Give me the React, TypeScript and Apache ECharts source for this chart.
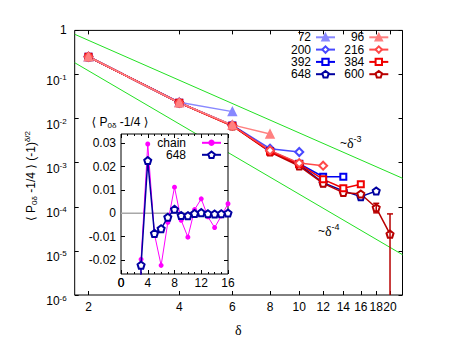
import React, { useEffect, useRef } from 'react';
import * as echarts from 'echarts';

// ---------- data ----------
const deltas = [2, 4, 6, 8, 10, 12, 14, 16, 18, 20];
const xTickValues = [2, 4, 6, 8, 10, 12, 14, 16, 18, 20];

const legendLeft = ['72', '200', '392', '648'];
const legendRight = ['96', '216', '384', '600'];

const vals72 = [0.253, 0.0235, 0.0144];
const vals96 = [0.253, 0.0229, 0.0072, 0.00448];
const vals200 = [0.253, 0.0229, 0.0071, 0.00208, 0.00175];
const vals216 = [0.253, 0.0229, 0.0069, 0.0019, 0.00098, 0.000855];
const vals392 = [0.253, 0.0229, 0.007, 0.00185, 0.00095, 0.00048, 0.00048];
const vals384 = [0.253, 0.0229, 0.0069, 0.0018, 0.00093, 0.00042, 0.000263, 0.000323];
const vals648 = [0.253, 0.0229, 0.007, 0.00182, 0.0009, 0.00035, 0.00023, 0.00017, 0.000228];
const vals600 = [0.253, 0.0229, 0.0068, 0.00175, 0.00084, 0.00034, 0.00021, 0.000195, 0.000095, 0.000024];

const errDelta = [18, 20];
const errLow = [7.3e-5, 1e-6];
const errHigh = [1.2e-4, 6.9e-5];

const guideX = [1.8, 22];
const guideCube = [0.816, 4.44e-4];
const guideQuartic = [0.185, 8.2e-6];

const insetX = [2, 3, 4, 5, 6, 7, 8, 9, 10, 11, 12, 13, 14, 15, 16];
const chainVals = [-0.25, -0.0197, 0.0297, -0.0089, -0.0223, -0.0039, 0.0112, -0.003, -0.0102, 0.0016, 0.0062, -0.0015, -0.0061, -0.0011, 0.0041];
const inset648Vals = [-0.25, -0.0222, 0.0226, -0.0086, -0.0066, -0.0017, 0.0017, -0.0009, -0.001, -0.0001, 0.0003, -0.0002, -0.0003, -0.0002, 0.0001];
const insetXTicks = [0, 4, 8, 12, 16];
const insetYTicks = [-0.02, -0.01, 0, 0.01, 0.02, 0.03];
const insetYMin = -0.026;
const insetYMax = 0.034;

// ---------- helpers ----------
const L = (v: number) => Math.log10(v);
const SANS = 'Liberation Sans, Arial, Helvetica, sans-serif';
const SERIF = 'Liberation Serif, DejaVu Serif, serif';
const BR = 'DejaVu Sans, Liberation Sans, sans-serif';
const PENTA = 'path://M0,-10L9.51,-3.09L5.88,8.09L-5.88,8.09L-9.51,-3.09Z';

function mainSeries(name: string, vals: number[], color: string, symbol: string, size: number, lw = 1.5) {
  return {
    name,
    type: 'line',
    xAxisIndex: 0,
    yAxisIndex: 0,
    data: vals.map((v, i) => [L(deltas[i]), L(v)]),
    symbol,
    symbolSize: size,
    color,
    itemStyle: { color, borderColor: color, borderWidth: 1.5 },
    lineStyle: { color, width: lw },
    z: 3,
  };
}

const titleRich = {
  t: { fontSize: 12, fontFamily: SANS, fill: '#000', color: '#000' },
  br: { fontSize: 12, fontFamily: BR, fill: '#000', color: '#000' },
  sub: { fontSize: 8, fontFamily: SANS, fill: '#000', color: '#000', padding: [7, 0, 0, 0] },
  sup: { fontSize: 8, fontFamily: SANS, fill: '#000', color: '#000', padding: [0, 0, 7, 0] },
};

export default function App() {
  const ref = useRef<HTMLDivElement>(null);
  useEffect(() => {
    document.body.style.margin = '0';
    const chart = echarts.init(ref.current!, null, { renderer: 'svg' });
    const axisTickStyle = { lineStyle: { color: '#000', width: 1 } };

    const graphics: any[] = [
      {
        type: 'text', x: 31, y: 176, rotation: Math.PI / 2, z: 30,
        style: {
          text: '{br|\u27e8}{t| P}{sub|0δ}{t| -1/4 }{br|\u27e9}{t| (-1)}{sup|δ/2}',
          align: 'center', verticalAlign: 'middle',
          rich: titleRich,
        },
      },
      {
        type: 'text', x: 120, y: 122, z: 30,
        style: {
          text: '{br|\u27e8}{t| P}{sub|0δ}{t| -1/4 }{br|\u27e9}',
          align: 'center', verticalAlign: 'middle',
          rich: titleRich,
        },
      },
      {
        type: 'text', x: 340, y: 143, z: 30,
        style: {
          text: '{t|~}{d|δ}{sup|-3}',
          align: 'left', verticalAlign: 'middle',
          rich: {
            t: { fontSize: 12, fontFamily: SANS, fill: '#000' },
            d: { fontSize: 14, fontFamily: SERIF, fill: '#000' },
            sup: { fontSize: 9, fontFamily: SANS, fill: '#000', padding: [0, 0, 8, 0] },
          },
        },
      },
      {
        type: 'text', x: 318, y: 231, z: 30,
        style: {
          text: '{t|~}{d|δ}{sup|-4}',
          align: 'left', verticalAlign: 'middle',
          rich: {
            t: { fontSize: 12, fontFamily: SANS, fill: '#000' },
            d: { fontSize: 14, fontFamily: SERIF, fill: '#000' },
            sup: { fontSize: 9, fontFamily: SANS, fill: '#000', padding: [0, 0, 8, 0] },
          },
        },
      },
      {
        type: 'text', x: 238.3, y: 330, z: 30,
        style: { text: 'δ', fontSize: 14, fontFamily: SERIF, fill: '#000', align: 'center', verticalAlign: 'middle' },
      },
    ];

    const option: any = {
      animation: false,
      backgroundColor: '#fff',
      textStyle: { fontFamily: SANS },
      grid: [
        {
          left: 74.7, right: 60.5, top: 30.4, bottom: 53,
          show: true, borderColor: '#000', borderWidth: 1, backgroundColor: 'transparent',
          outerBoundsMode: 'none',
        },
        {
          left: 121, width: 107, top: 134, height: 140,
          show: true, borderColor: '#000', borderWidth: 1, backgroundColor: '#fff',
          z: 10, outerBoundsMode: 'none',
        },
      ],
      xAxis: [
        {
          type: 'value', gridIndex: 0, min: L(1.8), max: L(22),
          axisLine: { show: false, onZero: false }, splitLine: { show: false },
          axisTick: { inside: true, length: 4, customValues: xTickValues.map(L), ...axisTickStyle },
          axisLabel: {
            customValues: xTickValues.map(L), hideOverlap: false,
            formatter: (v: number) => String(Math.round(Math.pow(10, v))),
            fontSize: 12, color: '#000', fontFamily: SANS, margin: 6,
          },
        },
        {
          type: 'value', gridIndex: 0, position: 'top', min: L(1.8), max: L(22),
          axisLine: { show: false, onZero: false }, splitLine: { show: false },
          axisTick: { inside: true, length: 4, customValues: xTickValues.map(L), ...axisTickStyle },
          axisLabel: { show: false },
        },
        {
          type: 'value', gridIndex: 1, min: 0, max: 16, interval: 4, z: 12,
          axisLine: { show: false, onZero: false }, splitLine: { show: false },
          axisTick: { inside: true, length: 4, ...axisTickStyle },
          minorTick: { show: true, splitNumber: 4, length: 2, lineStyle: { color: '#000' } },
          axisLabel: {
            customValues: insetXTicks,
            fontSize: 12, color: '#000', fontFamily: SANS, margin: 3, hideOverlap: false,
            showMinLabel: true, showMaxLabel: true,
            formatter: (v: number) => String(v),
          },
        },
        {
          type: 'value', gridIndex: 1, position: 'top', min: 0, max: 16, interval: 4, z: 12,
          axisLine: { show: false, onZero: false }, splitLine: { show: false },
          axisTick: { inside: true, length: 4, ...axisTickStyle },
          minorTick: { show: true, splitNumber: 4, length: 2, lineStyle: { color: '#000' } },
          axisLabel: { show: false },
        },
      ],
      yAxis: [
        {
          type: 'value', gridIndex: 0, min: -6, max: 0, interval: 1,
          axisLine: { show: false, onZero: false }, splitLine: { show: false },
          axisTick: { inside: true, length: 4, ...axisTickStyle },
          axisLabel: {
            margin: 8, color: '#000', fontFamily: SANS, fontSize: 12,
            formatter: (v: number) => (v === 0 ? '{one|1}' : `{b|10}{sup|${v}}`),
            rich: {
              one: { fontSize: 12, fontFamily: SANS, color: '#000' },
              b: { fontSize: 12, fontFamily: SANS, color: '#000', padding: [12, 0, 0, 0] },
              sup: { fontSize: 8, fontFamily: SANS, color: '#000', padding: [6, 0, 0, 0] },
            },
          },
        },
        {
          type: 'value', gridIndex: 0, position: 'right', min: -6, max: 0, interval: 1,
          axisLine: { show: false, onZero: false }, splitLine: { show: false },
          axisTick: { inside: true, length: 4, ...axisTickStyle },
          axisLabel: { show: false },
        },
        {
          type: 'value', gridIndex: 1, min: insetYMin, max: insetYMax, z: 12,
          axisLine: { show: false, onZero: false }, splitLine: { show: false },
          axisTick: { inside: true, length: 4, customValues: insetYTicks, ...axisTickStyle },
          axisLabel: {
            customValues: insetYTicks, margin: 5, color: '#000', fontFamily: SANS, fontSize: 12,
            formatter: (v: number) => (Math.abs(v) < 1e-9 ? '0' : v.toFixed(2)),
          },
        },
        {
          type: 'value', gridIndex: 1, position: 'right', min: insetYMin, max: insetYMax, z: 12,
          axisLine: { show: false, onZero: false }, splitLine: { show: false },
          axisTick: { inside: true, length: 4, customValues: insetYTicks, ...axisTickStyle },
          axisLabel: { show: false },
        },
      ],
      legend: [
        {
          data: legendLeft, right: 127, top: 31.3, orient: 'vertical', align: 'right',
          itemWidth: 19, itemHeight: 8, itemGap: 0.3, padding: 0, selectedMode: false,
          textStyle: { fontSize: 12, lineHeight: 12, color: '#000', fontFamily: SANS },
        },
        {
          data: legendRight, right: 73.7, top: 31.3, orient: 'vertical', align: 'right',
          itemWidth: 19, itemHeight: 8, itemGap: 0.3, padding: 0, selectedMode: false,
          textStyle: { fontSize: 12, lineHeight: 12, color: '#000', fontFamily: SANS },
        },
        {
          data: ['chain', '648i'], right: 241, top: 136.8, orient: 'vertical', align: 'right',
          itemWidth: 19, itemHeight: 8, itemGap: 0, padding: 0, selectedMode: false, z: 20,
          formatter: (n: string) => (n === '648i' ? '648' : n),
          textStyle: { fontSize: 12, lineHeight: 12, color: '#000', fontFamily: SANS, padding: [0, 11, 0, 0] },
        },
      ],
      series: [
        {
          name: 'guide3', type: 'line', xAxisIndex: 0, yAxisIndex: 0, symbol: 'none', z: 1,
          data: guideX.map((x, i) => [L(x), L(guideCube[i])]),
          lineStyle: { color: '#22e022', width: 1 },
        },
        {
          name: 'guide4', type: 'line', xAxisIndex: 0, yAxisIndex: 0, symbol: 'none', z: 1,
          data: guideX.map((x, i) => [L(x), L(guideQuartic[i])]),
          lineStyle: { color: '#22e022', width: 1 },
        },
        mainSeries('72', vals72, '#8888ff', 'triangle', 8),
        mainSeries('200', vals200, '#4848ff', 'emptyDiamond', 8),
        mainSeries('392', vals392, '#0000f0', 'emptyRect', 6),
        mainSeries('648', vals648, '#0000a0', 'empty' + PENTA, 7),
        mainSeries('600', vals600, '#b80000', 'empty' + PENTA, 7),
        mainSeries('384', vals384, '#f00000', 'emptyRect', 6),
        mainSeries('216', vals216, '#ff4848', 'emptyDiamond', 8),
        mainSeries('96', vals96, '#ff8080', 'triangle', 8),
        {
          name: 'err600', type: 'custom', xAxisIndex: 0, yAxisIndex: 0, z: 4,
          data: errDelta.map((d, i) => [L(d), L(errLow[i]), L(errHigh[i])]),
          renderItem: (params: any, api: any) => {
            const x = api.value(0);
            const lo = api.coord([x, api.value(1)]);
            const hi = api.coord([x, api.value(2)]);
            const st = { stroke: '#b80000', lineWidth: 1.5 };
            const kids: any[] = [
              { type: 'line', shape: { x1: lo[0], y1: lo[1], x2: hi[0], y2: hi[1] }, style: st },
              { type: 'line', shape: { x1: hi[0] - 3, y1: hi[1], x2: hi[0] + 3, y2: hi[1] }, style: st },
            ];
            if (api.value(1) > -6) {
              kids.push({ type: 'line', shape: { x1: lo[0] - 3, y1: lo[1], x2: lo[0] + 3, y2: lo[1] }, style: st });
            }
            return { type: 'group', children: kids };
          },
        },
        {
          name: 'zero', type: 'line', xAxisIndex: 2, yAxisIndex: 2, symbol: 'none', z: 13, silent: true,
          data: [[0, 0], [16, 0]],
          lineStyle: { color: '#a8a8a8', width: 1.5 },
        },
        {
          name: 'chain', type: 'line', xAxisIndex: 2, yAxisIndex: 2, z: 14,
          data: insetX.map((x, i) => [x, chainVals[i]]),
          symbol: 'circle', symbolSize: 5, color: '#ff00ff',
          itemStyle: { color: '#ff00ff' },
          lineStyle: { color: '#ff00ff', width: 1 },
        },
        {
          name: '648i', type: 'line', xAxisIndex: 2, yAxisIndex: 2, z: 15,
          data: insetX.map((x, i) => [x, inset648Vals[i]]),
          symbol: 'empty' + PENTA, symbolSize: 7, color: '#0000a0',
          itemStyle: { color: '#0000a0', borderColor: '#0000a0', borderWidth: 1.5 },
          lineStyle: { color: '#0000a0', width: 1.5 },
        },
      ],
      graphic: graphics,
    };
    chart.setOption(option);

    // the inset's "0" x-tick label, placed through the inset axes' own scale
    const p = chart.convertToPixel({ xAxisIndex: 2, yAxisIndex: 2 } as any, [insetXTicks[0], insetYMin]) as any;
    if (p && isFinite(p[0])) {
      chart.setOption({
        graphic: [
          ...graphics,
          {
            type: 'text', x: p[0], y: p[1] + 3, z: 30,
            style: { text: String(insetXTicks[0]), fontSize: 12, fontFamily: SANS, fill: '#000', align: 'center', verticalAlign: 'top' },
          },
        ],
      });
    }
    return () => chart.dispose();
  }, []);
  return <div ref={ref} style={{ width: 463, height: 348 }} />;
}
